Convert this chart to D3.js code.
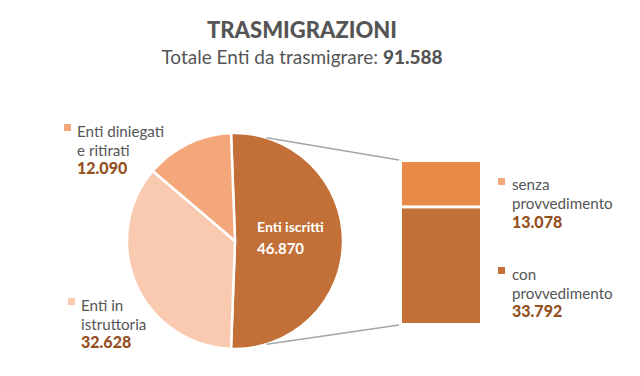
<!DOCTYPE html>
<html><head><meta charset="utf-8">
<script src="https://cdn.jsdelivr.net/npm/d3@7"></script>
<style>
html,body{margin:0;padding:0;background:#fff;}
text{font-family:Lato,"Noto Sans",sans-serif;}
</style></head>
<body><svg id="c" width="640" height="376"></svg>
<script>
const title = "TRASMIGRAZIONI";
const subtitleText = "Totale Enti da trasmigrare: ";
const total = "91.588";
const pieLabels = [["Enti iscritti"], ["Enti in","istruttoria"], ["Enti diniegati","e ritirati"]];
const pieValues = [46870, 32628, 12090];
const pieValueLabels = ["46.870", "32.628", "12.090"];
const pieColors = ["#C27038", "#F9C9B0", "#F5A77C"];
const barLabels = [["senza","provvedimento"], ["con","provvedimento"]];
const barValues = [13078, 33792];
const barValueLabels = ["13.078", "33.792"];
const barColors = ["#E88B48", "#C27038"];

const svg = d3.select("#c");
const valColor = "#94501F";
const txtColor = "#555";

svg.append("text").attr("x", 302).attr("y", 38).attr("text-anchor","middle")
  .attr("font-size", 22).attr("font-weight", 900).attr("fill", "#555").text(title);
const st = svg.append("text").attr("x", 302).attr("y", 64).attr("text-anchor","middle")
  .attr("font-size", 19).attr("fill", "#555");
st.append("tspan").text(subtitleText);
st.append("tspan").attr("font-weight", 900).text(total);

// pie
const cx = 235, cy = 241, r = 108;
const sum = d3.sum(pieValues);
const start = Math.PI/2 - Math.PI * pieValues[0]/sum;
const pie = d3.pie().sort(null).startAngle(start).endAngle(start + 2*Math.PI);
const arcs = pie(pieValues);
const arc = d3.arc().innerRadius(0).outerRadius(r);
const g = svg.append("g").attr("transform", `translate(${cx},${cy})`);
g.selectAll("path").data(arcs).join("path")
  .attr("d", arc).attr("fill", (d,i)=>pieColors[i])
  .attr("stroke", "#fff").attr("stroke-width", 2.5).attr("stroke-linejoin","round");

// bar
const bx = 402, bw = 78, bTop = 162, bBot = 323;
const y = d3.scaleLinear().domain([0, d3.sum(barValues)]).range([bTop, bBot]);
const stack = d3.cumsum(barValues);
svg.selectAll("rect.bar").data(barValues).join("rect").attr("class","bar")
  .attr("x", bx).attr("width", bw)
  .attr("y", (d,i)=> y(stack[i]-d) + (i>0?1.5:0))
  .attr("height", (d,i)=> y(stack[i]) - y(stack[i]-d) - 1.5)
  .attr("fill", (d,i)=>barColors[i]);

// connectors
const a = 17 * Math.PI/180;
const lines = [[cx + r*Math.sin(a), cy - r*Math.cos(a), bx-3, bTop-2],
               [cx + r*Math.sin(a), cy + r*Math.cos(a), bx-3, bBot+2]];
svg.selectAll("line.conn").data(lines).join("line").attr("class","conn")
  .attr("x1", d=>d[0]).attr("y1", d=>d[1]).attr("x2", d=>d[2]).attr("y2", d=>d[3])
  .attr("stroke", "#A3A7AC").attr("stroke-width", 1.5);

// inner label
const il = svg.append("g");
il.append("text").attr("x", 257).attr("y", 232).attr("font-size", 14).attr("font-weight", 700)
  .attr("fill", "#fff").text(pieLabels[0][0]);
il.append("text").attr("x", 257).attr("y", 254).attr("font-size", 15).attr("font-weight", 700)
  .attr("fill", "#fff").text(pieValueLabels[0]);

function legend(mx, my, tx, ty, lines, val, col, lh) {
  svg.append("rect").attr("x", mx).attr("y", my).attr("width", 7).attr("height", 7).attr("fill", col);
  lines.forEach((t,i)=>{
    svg.append("text").attr("x", tx).attr("y", ty + i*lh).attr("font-size", 15.2).attr("fill", txtColor).text(t);
  });
  svg.append("text").attr("x", tx).attr("y", ty + lines.length*lh).attr("font-size", 16)
    .attr("font-weight", 900).attr("fill", valColor).text(val);
}
legend(64, 124, 77, 137, pieLabels[2], pieValueLabels[2], pieColors[2], 18.5);
legend(68, 298, 81, 311, pieLabels[1], pieValueLabels[1], pieColors[1], 18.5);
legend(498, 178, 512, 190, barLabels[0], barValueLabels[0], "#F5A77C", 19);
legend(498, 267, 512, 280, barLabels[1], barValueLabels[1], barColors[1], 18.5);
</script></body></html>
